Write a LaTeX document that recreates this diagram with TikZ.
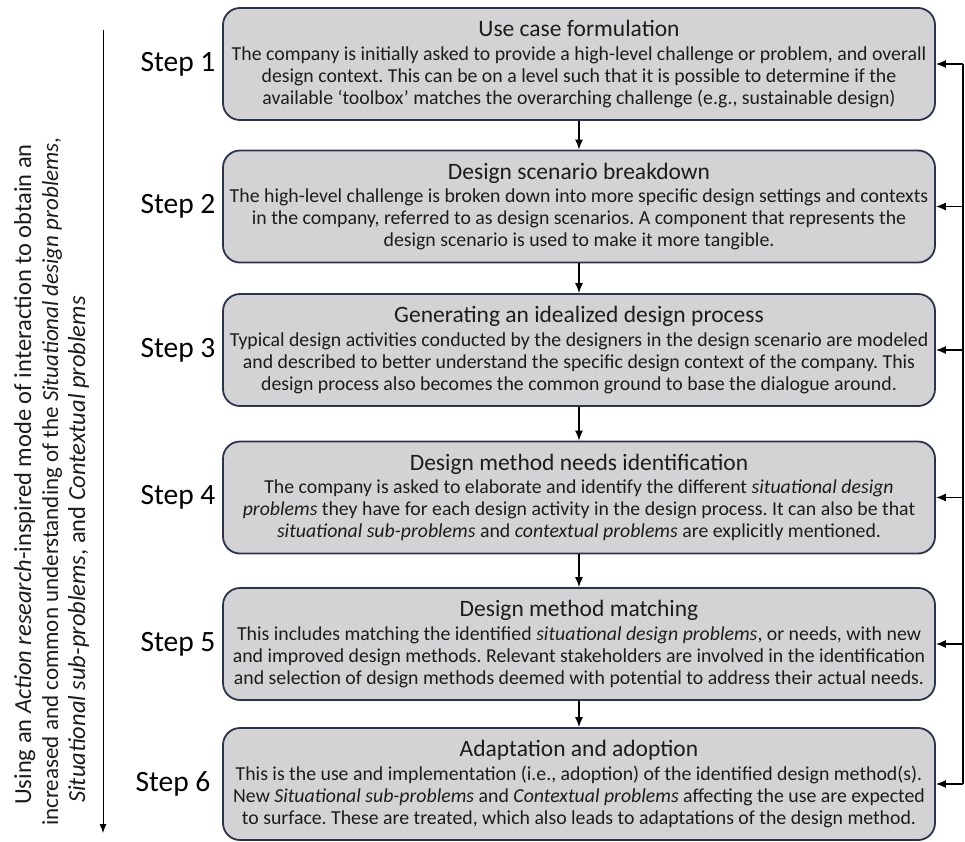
\documentclass[tikz,border=0pt]{standalone}
\usepackage{fontspec}
\setmainfont{Carlito}
\usetikzlibrary{arrows.meta}

\definecolor{boxfill}{RGB}{211,211,213}
\definecolor{boxline}{RGB}{44,52,76}
\definecolor{inktext}{RGB}{28,28,28}

\frenchspacing
\begin{document}
\begin{tikzpicture}[x=1pt,y=-1pt,
  stepbox/.style={draw=boxline, line width=1.8pt, fill=boxfill,
    rounded corners=17pt, minimum width=712pt, minimum height=112pt,
    align=center, inner sep=0pt, text=inktext,
    font=\fontsize{19.8}{22}\selectfont},
  steplabel/.style={anchor=east, font=\fontsize{29.5}{32}\selectfont, text=black},
  sidetext/.style={rotate=90, anchor=base west, inner sep=0pt, text=inktext},
  flow/.style={-{Latex[length=10pt,width=8pt]}, line width=1.3pt},
  bus/.style={line width=1.5pt}
]
\useasboundingbox (0,0) rectangle (965,841);

\newcommand{\boxtitle}[1]{{\fontsize{23.5}{22}\selectfont #1}\\[1.5pt]}

% the six step boxes
\node[stepbox] (b1) at (579,64) {\boxtitle{Use case formulation}
The company is initially asked to provide a high-level challenge or problem, and overall\\
design context. This can be on a level such that it is possible to determine if the\\
available ‘toolbox’ matches the overarching challenge (e.g., sustainable design)};

\node[stepbox] (b2) at (579,206.5) {\boxtitle{Design scenario breakdown}
The high-level challenge is broken down into more specific design settings and contexts\\
in the company, referred to as design scenarios. A component that represents the\\
design scenario is used to make it more tangible.};

\node[stepbox] (b3) at (579,350) {\boxtitle{Generating an idealized design process}
Typical design activities conducted by the designers in the design scenario are modeled\\
and described to better understand the specific design context of the company. This\\
design process also becomes the common ground to base the dialogue around.};

\node[stepbox] (b4) at (579,497.5) {\boxtitle{Design method needs identification}
The company is asked to elaborate and identify the different \textit{situational design}\\
\textit{problems} they have for each design activity in the design process. It can also be that\\
\textit{situational sub-problems} and \textit{contextual problems} are explicitly mentioned.};

\node[stepbox] (b5) at (579,644) {\boxtitle{Design method matching}
This includes matching the identified \textit{situational design problems}, or needs, with new\\
and improved design methods. Relevant stakeholders are involved in the identification\\
and selection of design methods deemed with potential to address their actual needs.};

\node[stepbox] (b6) at (579,784) {\boxtitle{Adaptation and adoption}
This is the use and implementation (i.e., adoption) of the identified design method(s).\\
New \textit{Situational sub-problems} and \textit{Contextual problems} affecting the use are expected\\
to surface. These are treated, which also leads to adaptations of the design method.};

% step labels
\node[steplabel] (s1) at (219,64)    {Step 1};
\node[steplabel] (s2) at (219,206.5) {Step 2};
\node[steplabel] (s3) at (219,350)   {Step 3};
\node[steplabel] (s4) at (219,497.5) {Step 4};
\node[steplabel] (s5) at (219,644)   {Step 5};
\node[steplabel] (s6) at (214,784)   {Step 6};

% downward flow between steps
\foreach \a/\b in {b1/b2,b2/b3,b3/b4,b4/b5,b5/b6}
  \draw[flow] (\a.south) -- (\b.north);

% feedback bus on the right
\coordinate (busx) at (963,0);
\draw[bus] (b1.east -| busx) -- (b6.east -| busx);
\foreach \b in {b1,b2,b3,b4,b5,b6}
  \draw[flow] (\b.east -| busx) -- (\b.east);

% time axis and its caption on the left
\coordinate (axtop) at (103,30);
\coordinate (axend) at (103,833);
\draw[-{Latex[length=9pt,width=7pt]}, line width=0.9pt] (axtop) -- (axend);

\node[sidetext, font=\fontsize{24.5}{26}\selectfont] (t1) at (31,805)
  {Using an \textit{Action research}-inspired mode of interaction to obtain an};
\node[sidetext, font=\fontsize{23}{26}\selectfont] (t2) at (58,826)
  {increased and common understanding of the \textit{Situational design problems},};
\node[sidetext, font=\fontsize{24.5}{26}\selectfont] (t3) at (85,803)
  {\textit{Situational sub-problems}, and \textit{Contextual problems}};
\end{tikzpicture}
\end{document}
